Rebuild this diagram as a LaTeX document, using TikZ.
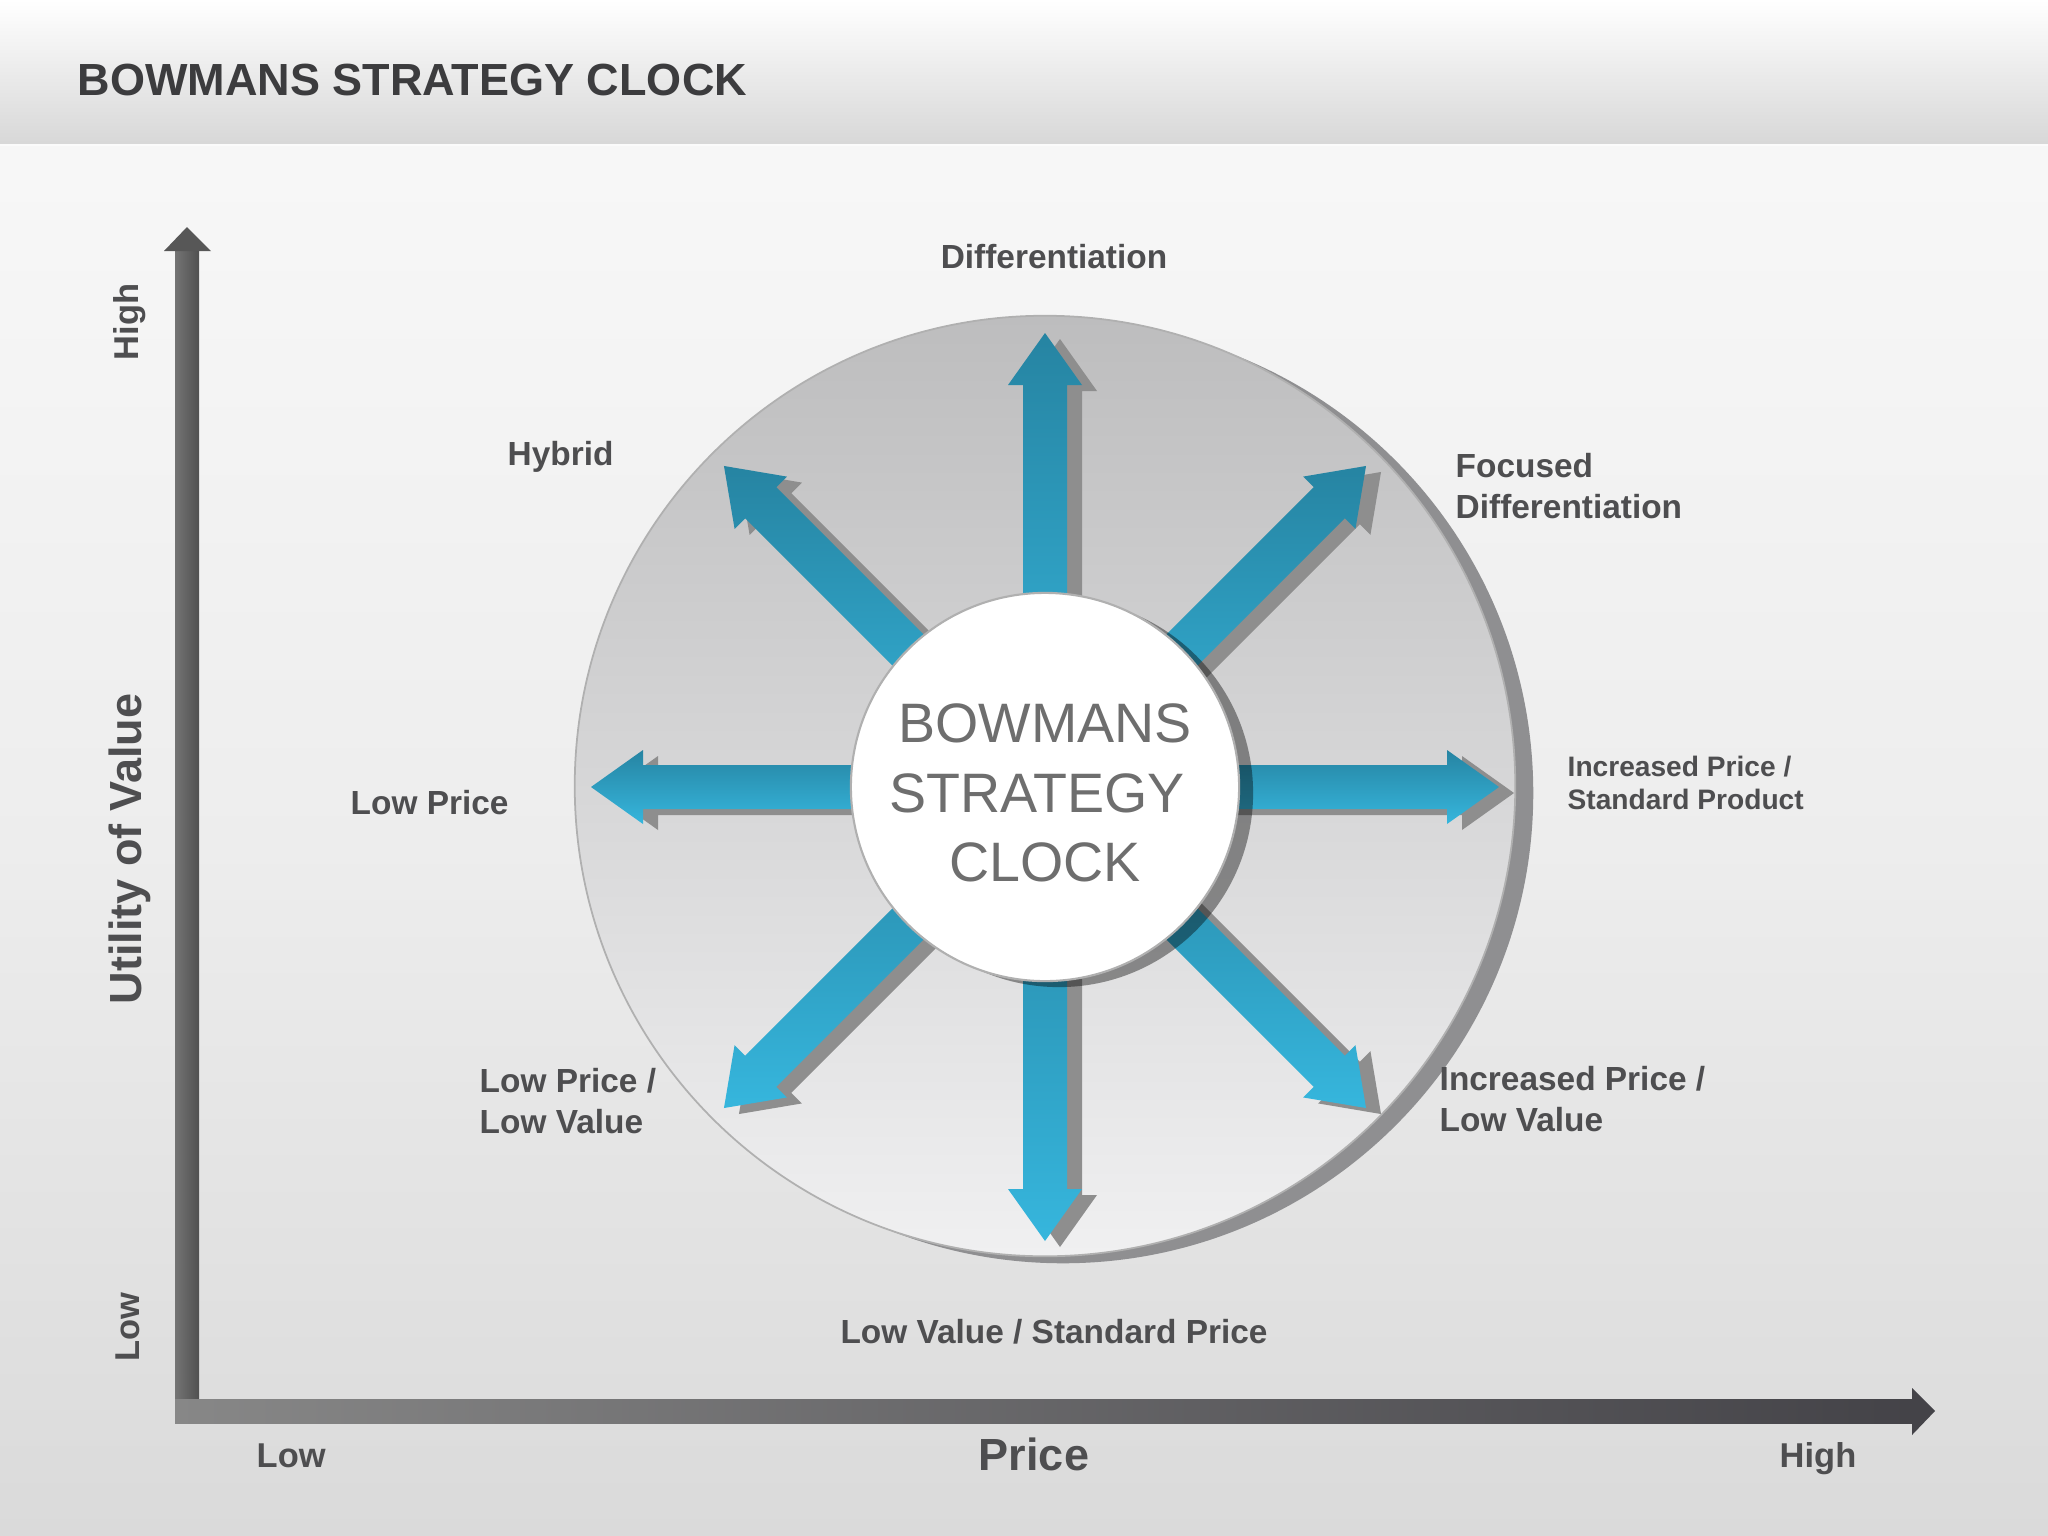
\documentclass[tikz,border=0pt]{standalone}
\usepackage{fontspec}
\setmainfont{Liberation Sans}
\usetikzlibrary{calc}
\definecolor{labc}{HTML}{4E4E50}
\definecolor{titlec}{HTML}{3C3C3E}
\definecolor{hubtextc}{HTML}{6E6E6E}
\definecolor{ablueA}{HTML}{2684A2}
\definecolor{ablueB}{HTML}{36B6DD}
\definecolor{ashadow}{HTML}{8E8E8E}
\definecolor{diskshadow}{HTML}{8F8F91}
\definecolor{diskA}{HTML}{BDBDBE}
\definecolor{diskB}{HTML}{F0F0F1}
\definecolor{diskline}{HTML}{B0B0B0}
\definecolor{axisA}{HTML}{747474}
\definecolor{axisB}{HTML}{505050}
\definecolor{axisC}{HTML}{878787}
\definecolor{axisD}{HTML}{444348}
\newcommand\arrowpts[3]{%
  \begin{scope}[shift={#3},rotate=#2]
    \coordinate (#1-1) at (0,22);
    \coordinate (#1-2) at (402,22);
    \coordinate (#1-3) at (402,37);
    \coordinate (#1-4) at (454,0);
    \coordinate (#1-5) at (402,-37);
    \coordinate (#1-6) at (402,-22);
    \coordinate (#1-7) at (0,-22);
  \end{scope}}
\tikzset{
  lab/.style={font=\fontsize{9.5}{11.5}\selectfont\bfseries, text=labc, inner sep=0pt, align=left},
  smalllab/.style={font=\fontsize{8}{9.4}\selectfont\bfseries, text=labc, inner sep=0pt, align=left},
  axlab/.style={font=\fontsize{9.8}{11.5}\selectfont\bfseries, text=labc, inner sep=0pt},
  bigaxlab/.style={font=\fontsize{12.8}{14}\selectfont\bfseries, text=labc, inner sep=0pt},
}
\begin{document}
\begin{tikzpicture}[x=0.01cm,y=-0.01cm]
\useasboundingbox (0,0) rectangle (2048,1536);
% background
\shade[top color=white, bottom color=black!15.5] (0,0) rectangle (2048,144);
\shade[top color=black!3, bottom color=black!14.5, middle color=black!7] (0,144) rectangle (2048,1536);
\fill[white!85!black!10] (0,144) rectangle (2048,146);
% title
\node[anchor=base west, font=\fontsize{12.8}{14}\selectfont\bfseries, text=titlec, inner sep=0pt] (title) at (77,95) {BOWMANS STRATEGY CLOCK};
% axes
\coordinate (origin) at (187,1411);
\coordinate (ytop) at (187,251);
\coordinate (ytip) at (187,227);
\coordinate (xend) at (1912,1411);
\coordinate (xtip) at (1935,1411);
\shade[left color=axisA, right color=axisB] (175,251) rectangle (199,1413);
\fill[axisB!80!axisA] (164,251) -- (ytip) -- (211,251) -- cycle;
\shade[left color=axisC, right color=axisD] (175,1399) rectangle (1912,1423);
\fill[axisD] (1912,1388) -- (xtip) -- (1912,1435) -- cycle;
% outer disk
\fill[diskshadow] (1063,793) circle[radius=4.70cm];
\shadedraw[top color=diskA, bottom color=diskB, draw=diskline, line width=0.5pt] (1045,786) circle[radius=4.70cm];
% arrows
\foreach \ang in {0,45,...,315}{
  \arrowpts{a\ang}{\ang}{(1045,787)}
  \arrowpts{s\ang}{\ang}{(1060,793)}
}
\foreach \ang in {0,45,...,315}{
  \fill[ashadow] (s\ang-1) -- (s\ang-2) -- (s\ang-3) -- (s\ang-4) -- (s\ang-5) -- (s\ang-6) -- (s\ang-7) -- cycle;
}
\foreach \ang in {0,45,...,315}{
  \shade[top color=ablueA, bottom color=ablueB] (a\ang-1) -- (a\ang-2) -- (a\ang-3) -- (a\ang-4) -- (a\ang-5) -- (a\ang-6) -- (a\ang-7) -- cycle;
}
% hub
\fill[black, opacity=0.4] (1059,793) circle[radius=1.94cm];
\node[circle, fill=white, draw=diskline, line width=0.6pt, minimum size=3.88cm, inner sep=0pt] (hub) at (1045,787) {};
\node[font=\fontsize{15.8}{19.77}\selectfont, text=hubtextc, align=center, inner sep=0pt] (hubtext) at (1045,793) {BOWMANS\\STRATEGY\hphantom{I}\\CLOCK};
% labels
\node[lab, anchor=base] (diff) at (1054,268) {Differentiation};
\node[lab, anchor=base west] (hybrid) at (507,465) {Hybrid};
\node[lab, anchor=north west] (focdiff) at (1455,453) {Focused\\Differentiation};
\node[lab, anchor=base west] (lowprice) at (350,814) {Low Price};
\node[smalllab, anchor=north west] (incstd) at (1567,755) {Increased Price /\\Standard Product};
\node[lab, anchor=north west] (lplv) at (479,1068) {Low Price /\\Low Value};
\node[lab, anchor=north west] (iplv) at (1439,1066) {Increased Price /\\Low Value};
\node[lab, anchor=base] (lvsp) at (1054,1343) {Low Value / Standard Price};
% axis labels
\node[axlab, anchor=base west] (xlow) at (256,1467) {Low};
\node[bigaxlab, anchor=base] (xprice) at (1034,1470) {Price};
\node[axlab, anchor=base] (xhigh) at (1818,1467) {High};
\node[axlab, anchor=base, rotate=90] (yhigh) at (138,322) {High};
\node[axlab, anchor=base, rotate=90] (ylow) at (139,1327) {Low};
\node[bigaxlab, anchor=base, rotate=90] (yutil) at (141,849) {Utility of Value};
\end{tikzpicture}
\end{document}
